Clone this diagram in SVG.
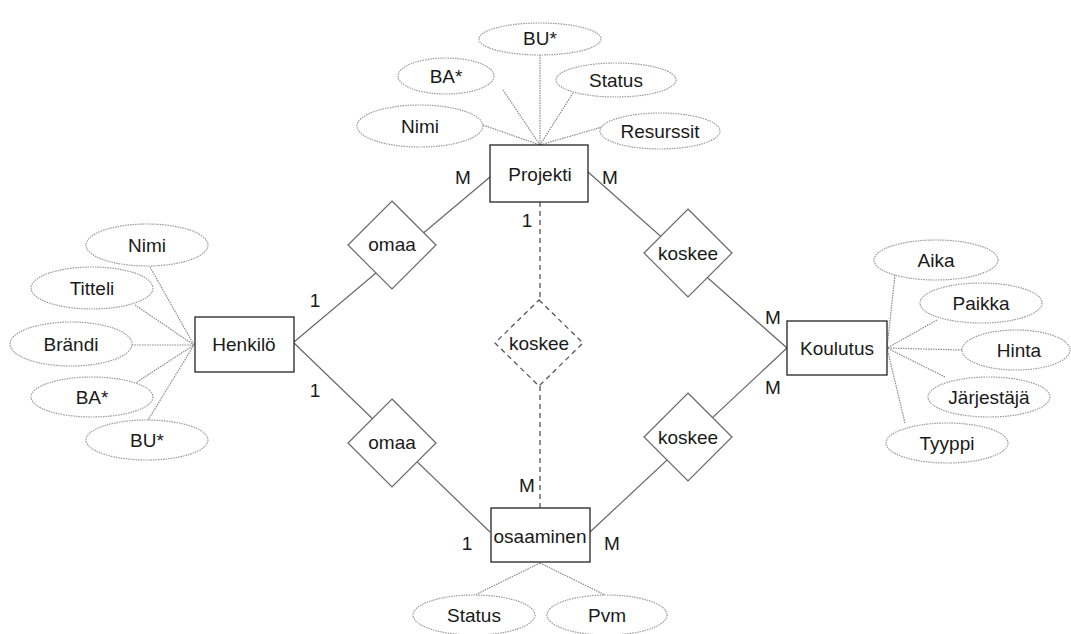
<svg xmlns="http://www.w3.org/2000/svg" width="1071" height="634" viewBox="0 0 1071 634">
<style>
text{font-family:"Liberation Sans",Arial,sans-serif;font-size:19px;fill:#1a1a1a;text-anchor:middle}
.ent{fill:#fff;stroke:#222;stroke-width:1.3}
.rel{fill:#fff;stroke:#666;stroke-width:1.2}
.relw{fill:#fff;stroke:#555;stroke-width:1.3;stroke-dasharray:5,4}
.att{fill:#fff;stroke:#999;stroke-width:1.2;stroke-dasharray:1.5,1}
.al{stroke:#8a8a8a;stroke-width:1.2;stroke-dasharray:1.5,1;fill:none}
.ln{stroke:#666;stroke-width:1.2;fill:none}
.dl{stroke:#555;stroke-width:1.3;stroke-dasharray:5,4;fill:none}
</style>
<rect width="1071" height="634" fill="#fff"/>
<g id="connectors">
<line class="ln" x1="294" y1="342" x2="490" y2="177"/>
<line class="ln" x1="294" y1="343" x2="490" y2="532"/>
<line class="ln" x1="588" y1="172" x2="787" y2="348"/>
<line class="ln" x1="590" y1="532" x2="787" y2="348"/>
<line class="dl" x1="540" y1="202" x2="540" y2="300"/>
<line class="dl" x1="540" y1="386" x2="540" y2="508"/>
<line class="al" x1="540" y1="55" x2="540" y2="145"/>
<line class="al" x1="503" y1="90" x2="540" y2="145"/>
<line class="al" x1="573" y1="93" x2="540" y2="145"/>
<line class="al" x1="483" y1="125" x2="540" y2="145"/>
<line class="al" x1="602" y1="127" x2="540" y2="145"/>
<line class="al" x1="150" y1="267" x2="194" y2="345"/>
<line class="al" x1="135" y1="305" x2="194" y2="345"/>
<line class="al" x1="132" y1="345" x2="194" y2="345"/>
<line class="al" x1="137" y1="382" x2="194" y2="345"/>
<line class="al" x1="148" y1="420" x2="194" y2="345"/>
<line class="al" x1="895" y1="275" x2="887" y2="348"/>
<line class="al" x1="937" y1="320" x2="887" y2="348"/>
<line class="al" x1="962" y1="350" x2="887" y2="348"/>
<line class="al" x1="945" y1="377" x2="887" y2="348"/>
<line class="al" x1="905" y1="423" x2="887" y2="348"/>
<line class="al" x1="540" y1="563" x2="475" y2="595"/>
<line class="al" x1="540" y1="563" x2="605" y2="595"/>
<text x="463" y="184">M</text>
<text x="610" y="184">M</text>
<text x="527" y="227">1</text>
<text x="315" y="307">1</text>
<text x="315" y="397">1</text>
<text x="773" y="324">M</text>
<text x="773" y="394">M</text>
<text x="527" y="492">M</text>
<text x="467" y="550">1</text>
<text x="612" y="550">M</text>
</g>
<g id="Projekti"><rect class="ent" x="490" y="145" width="98" height="57"/><text x="540" y="181">Projekti</text></g>
<g id="Henkilo"><rect class="ent" x="195" y="317" width="99" height="55"/><text x="244" y="351">Henkilö</text></g>
<g id="Koulutus"><rect class="ent" x="787" y="321" width="100" height="54"/><text x="837" y="355">Koulutus</text></g>
<g id="osaaminen"><rect class="ent" x="491" y="508" width="99" height="54"/><text x="540" y="543">osaaminen</text></g>
<g id="omaa1"><polygon class="rel" points="392,201 436,245 392,289 348,245"/><text x="392" y="251">omaa</text></g>
<g id="omaa2"><polygon class="rel" points="392,399 436,443 392,487 348,443"/><text x="392" y="449">omaa</text></g>
<g id="koskee1"><polygon class="rel" points="688,209 732,253 688,297 644,253"/><text x="688" y="260">koskee</text></g>
<g id="koskee2"><polygon class="rel" points="688,393 732,437 688,481 644,437"/><text x="688" y="444">koskee</text></g>
<g id="koskee3"><polygon class="relw" points="539,300 583,343 539,386 495,343"/><text x="539" y="350">koskee</text></g>
<g id="p_BU"><ellipse class="att" cx="540" cy="39" rx="61" ry="16"/><text x="540" y="45">BU*</text></g>
<g id="p_BA"><ellipse class="att" cx="446" cy="76" rx="48" ry="18"/><text x="446" y="83">BA*</text></g>
<g id="p_Status"><ellipse class="att" cx="616" cy="80" rx="60" ry="17"/><text x="616" y="87">Status</text></g>
<g id="p_Nimi"><ellipse class="att" cx="420" cy="126" rx="63" ry="21"/><text x="420" y="133">Nimi</text></g>
<g id="p_Resurssit"><ellipse class="att" cx="660" cy="131" rx="60" ry="18"/><text x="660" y="138">Resurssit</text></g>
<g id="h_Nimi"><ellipse class="att" cx="147" cy="245" rx="61" ry="21"/><text x="147" y="252">Nimi</text></g>
<g id="h_Titteli"><ellipse class="att" cx="92" cy="288" rx="61" ry="21"/><text x="92" y="295">Titteli</text></g>
<g id="h_Brandi"><ellipse class="att" cx="71" cy="344" rx="61" ry="22"/><text x="71" y="351">Brändi</text></g>
<g id="h_BA"><ellipse class="att" cx="92" cy="397" rx="61" ry="20"/><text x="92" y="404">BA*</text></g>
<g id="h_BU"><ellipse class="att" cx="147" cy="440" rx="61" ry="20"/><text x="147" y="447">BU*</text></g>
<g id="k_Aika"><ellipse class="att" cx="936" cy="260" rx="62" ry="20"/><text x="936" y="267">Aika</text></g>
<g id="k_Paikka"><ellipse class="att" cx="981" cy="303" rx="61" ry="20"/><text x="981" y="310">Paikka</text></g>
<g id="k_Hinta"><ellipse class="att" cx="1016" cy="350" rx="54" ry="20"/><text x="1019" y="357">Hinta</text></g>
<g id="k_Jarjestaja"><ellipse class="att" cx="989" cy="397" rx="61" ry="20"/><text x="989" y="404">Järjestäjä</text></g>
<g id="k_Tyyppi"><ellipse class="att" cx="947" cy="443" rx="61" ry="20"/><text x="947" y="450">Tyyppi</text></g>
<g id="o_Status"><ellipse class="att" cx="474" cy="615" rx="61" ry="20"/><text x="474" y="622">Status</text></g>
<g id="o_Pvm"><ellipse class="att" cx="607" cy="615" rx="60" ry="20"/><text x="607" y="622">Pvm</text></g>
</svg>
